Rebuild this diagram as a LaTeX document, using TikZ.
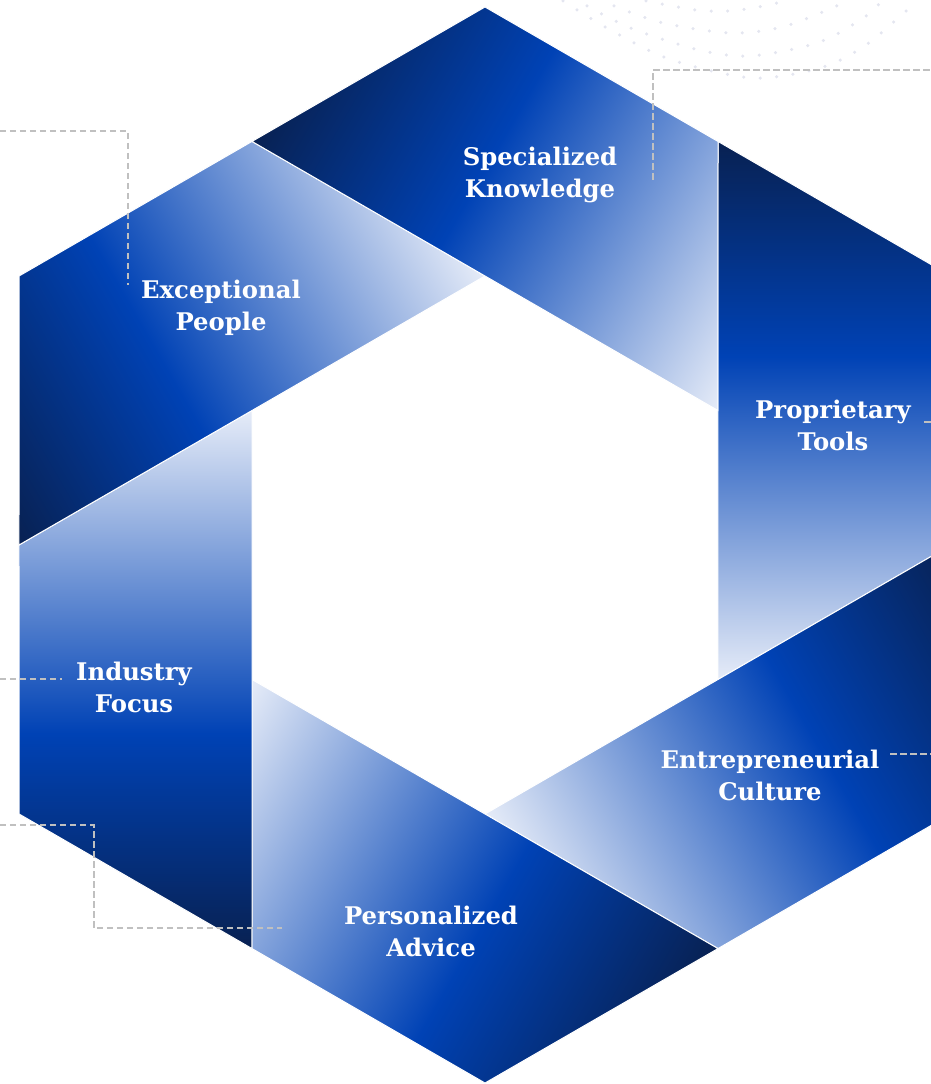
\documentclass[tikz,border=0pt]{standalone}
\usepackage{fontspec}
\setmainfont{DejaVu Serif}
\usetikzlibrary{positioning}

\definecolor{segNavy}{RGB}{8,33,82}
\definecolor{segBlue}{RGB}{0,66,181}
\definecolor{segLight}{RGB}{230,236,248}
\definecolor{leadGray}{RGB}{192,192,192}
\definecolor{dotGray}{RGB}{228,230,240}
\pgfdeclareverticalshading{segshade}{100bp}{color(0bp)=(segLight); color(25bp)=(segLight); color(55bp)=(segBlue); color(75bp)=(segNavy); color(100bp)=(segNavy)}

\begin{document}
\begin{tikzpicture}[x=1pt, y=1pt,
SegStyle/.style={shading=segshade, draw=white, line width=1pt},
LabelStyle/.style={text=white, align=center, inner sep=0pt,
                  font=\bfseries\fontsize{24.3}{32}\selectfont},
LeadStyle/.style={draw=leadGray, line width=1.8pt, dash pattern=on 6.5pt off 3.5pt},
DotStyle/.style={draw=dotGray, line width=3.5pt, line cap=round,
                dash pattern=on 0pt off 16.5pt},]
\useasboundingbox (-485,-539) rectangle (446,545);

% dots in the top right corner
\draw [DotStyle] plot [smooth] coordinates {(78,544) (122,517) (184,486) (267,467) (335,477) (381,500) (432,544)};
\draw [DotStyle] plot [smooth] coordinates {(102,539) (148,516) (214,495) (265,489) (332,502) (377,526) (395,542)};
\draw [DotStyle] plot [smooth] coordinates {(129,539) (178,522) (246,512) (297,518) (345,536) (360,544)};
\draw [DotStyle] plot [smooth] coordinates {(161,544) (211,535) (245,534) (279,539) (296,543)};

% six pieces of the ring, one piece turned round the centre
\foreach \k in {0,...,5} {
  \begin{scope}[transform canvas={rotate=-60*\k}]
    \shadedraw [SegStyle] (60:466) -- (30:538) -- (0:466) -- (-30:269) -- (30:269) -- cycle;
  \end{scope}
}

% leader lines
\coordinate (e1) at (-485,414);
\coordinate (e2) at (-357,260);
\coordinate (s1) at (168,365);
\coordinate (s2) at (446,475);
\coordinate (p1) at (439,123);
\coordinate (p2) at (446,123);
\coordinate (c1) at (405,-209);
\coordinate (c2) at (446,-209);
\coordinate (i1) at (-485,-134);
\coordinate (i2) at (-423,-134);
\coordinate (a1) at (-485,-280);
\coordinate (a2) at (-203,-383);
\draw [LeadStyle] (e1) -| (e2);
\draw [LeadStyle] (s1) |- (s2);
\draw [LeadStyle] (p1) -- (p2);
\draw [LeadStyle] (c1) -- (c2);
\draw [LeadStyle] (i1) -- (i2);
\draw [LeadStyle] (a1) -- (-391,-280) |- (a2);

\node [LabelStyle] (spec) at (55,370) {Specialized\\Knowledge};
\node [LabelStyle] (prop) at (348,120) {Proprietary\\Tools};
\node [LabelStyle] (entr) at (285,-230) {Entrepreneurial\\Culture};
\node [LabelStyle] (pers) at (-54,-386) {Personalized\\Advice};
\node [LabelStyle] (indu) at (-351,-142) {Industry\\Focus};
\node [LabelStyle] (exce) at (-264,237) {Exceptional\\People};
\end{tikzpicture}
\end{document}
